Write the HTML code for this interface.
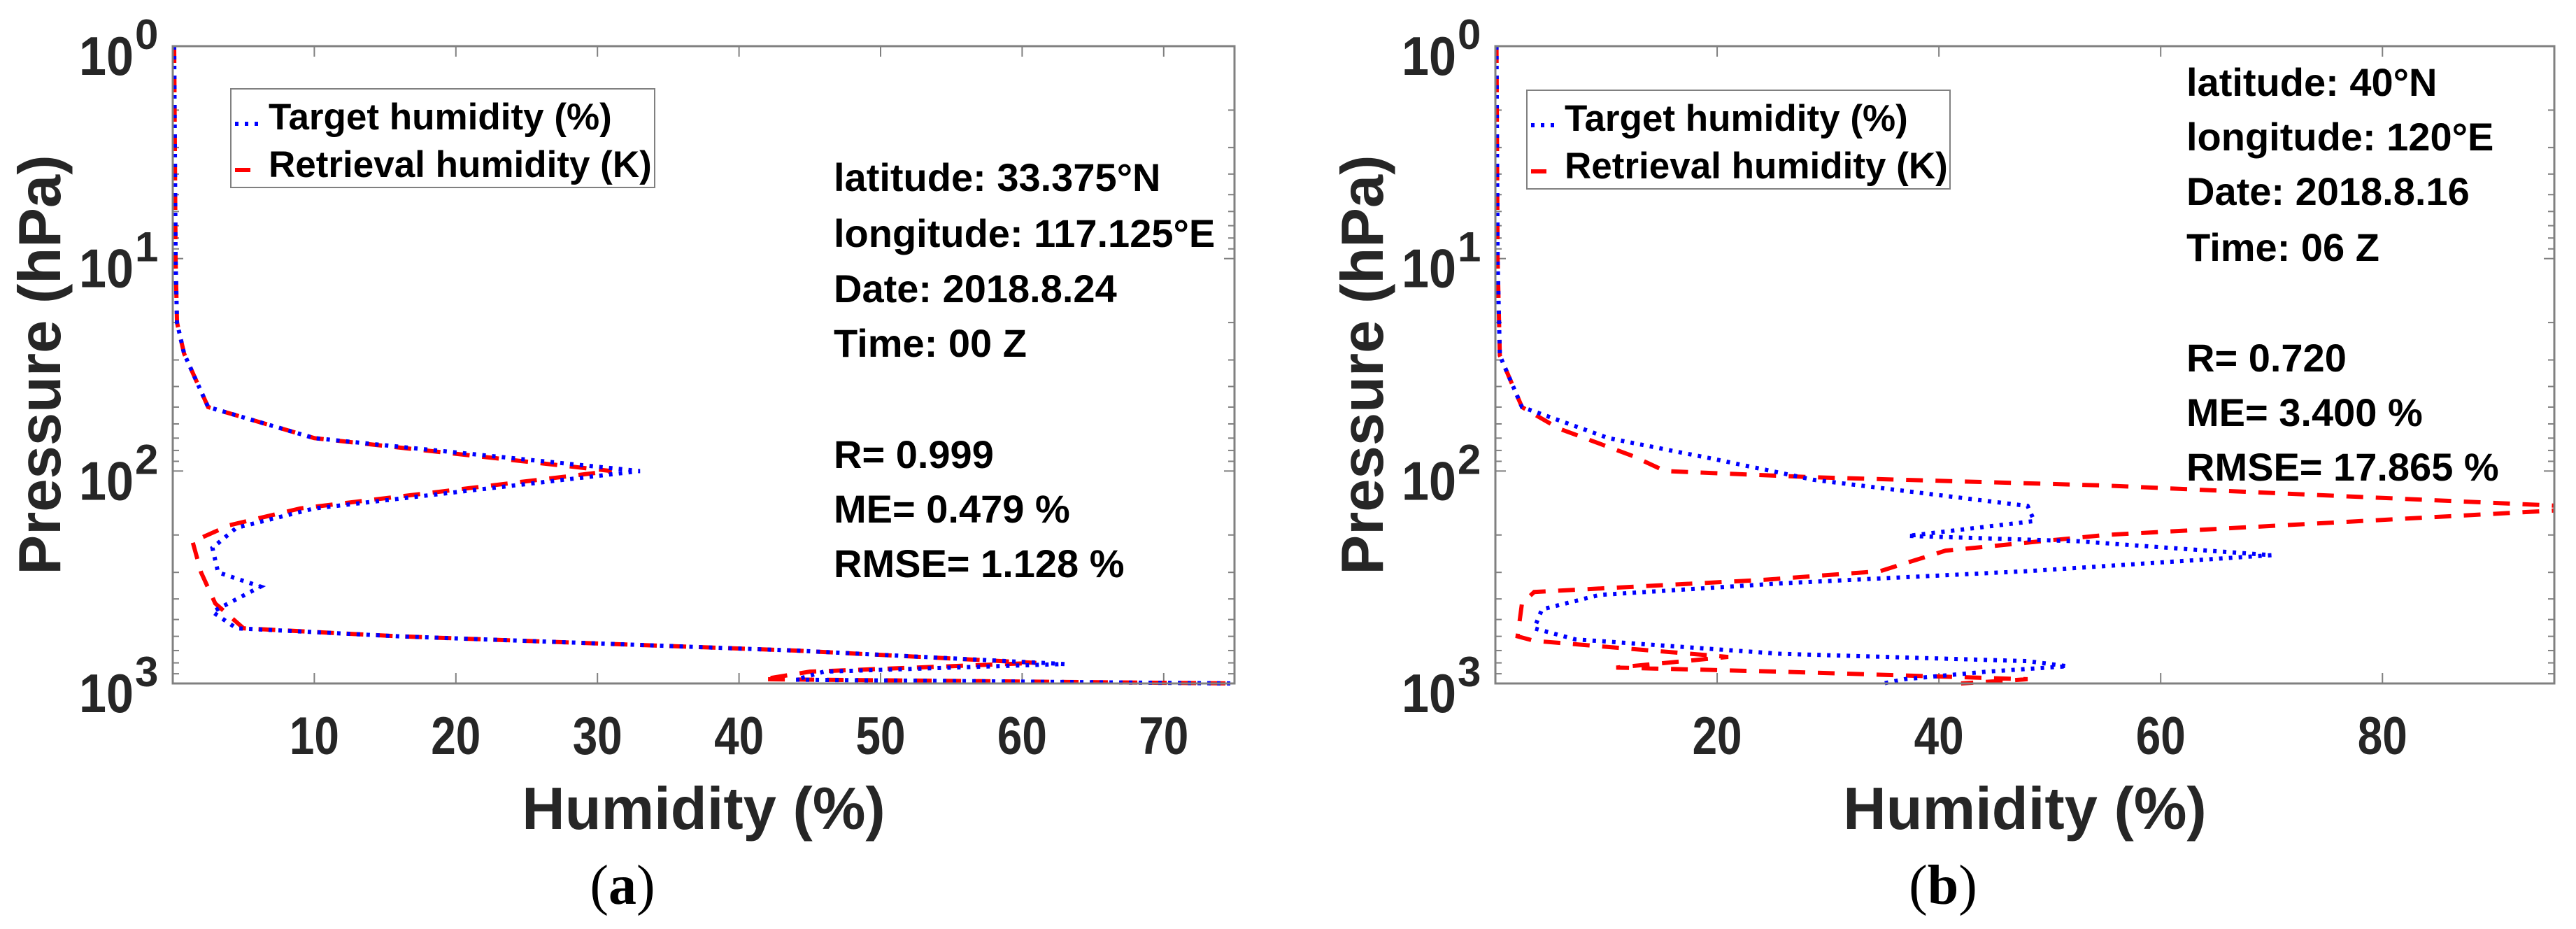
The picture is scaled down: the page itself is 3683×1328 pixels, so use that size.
<!DOCTYPE html>
<html><head><meta charset="utf-8"><style>
html,body{margin:0;padding:0;background:#fff;width:3683px;height:1328px;overflow:hidden}
svg{display:block}
text{font-family:"Liberation Sans",Arial,sans-serif}
</style></head><body>
<svg id="chart" width="3683" height="1328" viewBox="0 0 3683 1328" xmlns="http://www.w3.org/2000/svg"></svg>
<script>
// Panel (a) data
const aTargetP = [1,10,20,28,50,70,100,150,185,230,300,350,460,550,600,700,810,880,960,1000];
const aTargetX = [0.1,0.2,0.3,0.8,2.5,10,33,10,4.5,2.8,3.2,6.2,2.8,4.5,16,44,63,46,44,75];
const aRetrP = [1,10,20,28,50,70,100,150,180,215,300,420,550,600,700,800,880,955,1000];
const aRetrX = [0.1,0.2,0.3,0.8,2.5,10,31,9,4,1.4,2.0,3.0,5,16,44,61,45,41.7,75];
const aXTicks = [10,20,30,40,50,60,70];
const aInfo = ["latitude: 33.375°N","longitude: 117.125°E","Date: 2018.8.24","Time: 00 Z","R= 0.999","ME= 0.479 %","RMSE= 1.128 %"];
// Panel (b) data
const bTargetP = [1,10,28.6,50,70,88,110,146,172,202,214,249,296,338,383,448,550,620,725,785,830,880,955,1000];
const bTargetX = [0.1,0.2,0.4,2.4,10.2,19.8,28.7,48,48.6,37.2,52.5,70,48,25.7,9.4,4.2,3.5,7.2,25.7,48,51.6,44.3,36.9,35];
const bRetrP = [1,10,28.6,50,63,85,100,107,117,149,200,237,296,325,371,419,600,630,750,842,880,955,1000];
const bRetrX = [0.1,0.2,0.4,2.4,5.7,12.4,15.3,28.7,55,100,55,40.6,34.7,24.3,3.5,2.4,2,3.5,21,10.9,25.7,48,42];
const bXTicks = [20,40,60,80];
const bInfo = ["latitude: 40°N","longitude: 120°E","Date: 2018.8.16","Time: 06 Z","R= 0.720","ME= 3.400 %","RMSE= 17.865 %"];
const yDecades = [0,1,2,3];

const NS = "http://www.w3.org/2000/svg";
const svg = document.getElementById('chart');
function mk(tag, attrs, parent, txt){
  const e = document.createElementNS(NS, tag);
  for (const k in attrs) e.setAttribute(k, attrs[k]);
  if (txt !== undefined) e.textContent = txt;
  (parent||svg).appendChild(e);
  return e;
}

function drawPanel(cfg){
  const L=cfg.left, R=cfg.right, T=66, B=977;
  const xs = v => L + (v - 0) / cfg.xmax * (R - L);
  const ys = p => T + Math.log10(p) / 3 * (B - T);
  const g = mk('g', {});
  
  
  const clipId = cfg.id + '-clip';
  const defs = mk('defs', {}, g);
  const cp = mk('clipPath', {id: clipId}, defs);
  mk('rect', {x:L, y:T-4, width:R-L, height:B-T+8}, cp);

  const tk = mk('g', {stroke:'#808080','stroke-width':2}, g);
  
  
  cfg.xticks.forEach(v=>{
    const x = xs(v);
    mk('line',{x1:x,y1:B,x2:x,y2:B-15},tk);
    mk('line',{x1:x,y1:T,x2:x,y2:T+15},tk);
  });
  for (let d=0; d<3; d++){
    for (let m=2; m<=9; m++){
      const y = ys(m*Math.pow(10,d));
      mk('line',{x1:L,y1:y,x2:L+9,y2:y},tk);
      mk('line',{x1:R,y1:y,x2:R-9,y2:y},tk);
    }
  }
  yDecades.forEach(d=>{
    const y = ys(Math.pow(10,d));
    mk('line',{x1:L,y1:y,x2:L+15,y2:y},tk);
    mk('line',{x1:R,y1:y,x2:R-15,y2:y},tk);
  });

  const lines = mk('g', {'clip-path':'url(#'+clipId+')', fill:'none'}, g);
  const retr = mk('polyline', {points: cfg.rp.map((p,i)=>xs(cfg.rx[i])+','+ys(p)).join(' '),
    stroke:'#ff0000','stroke-width':6,'stroke-dasharray':'24 18'}, lines);
  
  
  const targ = mk('polyline', {points: cfg.tp.map((p,i)=>xs(cfg.tx[i])+','+ys(p)).join(' '),
    stroke:'#0000ff','stroke-width':6,'stroke-dasharray':'5 9'}, lines);
  
  

  const box = mk('rect', {x:L, y:T, width:R-L, height:B-T, fill:'none', stroke:'#808080', 'stroke-width':3}, g);
  
  

  cfg.xticks.forEach(v=>{
    const t = mk('text',{x:xs(v), y:1078, 'text-anchor':'middle','font-size':76,'font-weight':'bold',fill:'#262626',
      textLength:71, lengthAdjust:'spacingAndGlyphs'}, g, String(v));
    
    
  });
  yDecades.forEach(d=>{
    const y = ys(Math.pow(10,d));
    const t = mk('text',{x:L-56, y:y+41, 'text-anchor':'end','font-size':78,'font-weight':'bold',fill:'#262626',
      textLength:78, lengthAdjust:'spacingAndGlyphs'}, g, '10');
    
    
    const s = mk('text',{x:L-54, y:y+4, 'text-anchor':'start','font-size':60,'font-weight':'bold',fill:'#262626'}, g, String(d));
    
    
  });
  const xt = mk('text',{x:(L+R)/2, y:1185,'text-anchor':'middle','font-size':85,'font-weight':'bold',fill:'#262626'}, g, 'Humidity (%)');
  
  
  const yx = L - 161, yy = (T+B)/2;
  const yt = mk('text',{x:yx, y:yy,'text-anchor':'middle','font-size':85,'font-weight':'bold',fill:'#262626',
    transform:'rotate(-90 '+yx+' '+yy+')'}, g, 'Pressure (hPa)');
  
  

  const lg = mk('g', {}, g);
  
  
  mk('rect',{x:cfg.lg[0], y:cfg.lg[1], width:cfg.lg[2], height:141, fill:'#fff', stroke:'#808080','stroke-width':2}, lg);
  const lx = cfg.lg[0];
  mk('line',{x1:lx+6,y1:cfg.lg[1]+50,x2:lx+48,y2:cfg.lg[1]+50,stroke:'#0000ff','stroke-width':6,'stroke-dasharray':'5 9'}, lg);
  mk('line',{x1:lx+6,y1:cfg.lg[1]+116,x2:lx+28,y2:cfg.lg[1]+116,stroke:'#ff0000','stroke-width':6}, lg);
  const l1 = mk('text',{x:lx+54, y:cfg.lg[1]+58,'font-size':53,'font-weight':'bold',fill:'#000'}, lg, 'Target humidity (%)');
  
  
  const l2 = mk('text',{x:lx+54, y:cfg.lg[1]+126,'font-size':53,'font-weight':'bold',fill:'#000'}, lg, 'Retrieval humidity (K)');
  
  

  cfg.info.forEach((s,i)=>{
    const t = mk('text',{x:cfg.infoX, y:cfg.infoY[i],'font-size':56,'font-weight':'bold',fill:'#000'}, g, s);
    
    
  });
  const cap = mk('text',{x:cfg.capX, y:1292,'text-anchor':'middle','font-size':80,fill:'#000',
    style:'font-family:"Liberation Serif",serif'}, g);
  
  
  mk('tspan',{},cap,'(');
  mk('tspan',{'font-weight':'bold'},cap,cfg.cap);
  mk('tspan',{},cap,')');
}

drawPanel({id:'panel-a', left:247, right:1765, xmax:75, xticks:aXTicks,
  tp:aTargetP, tx:aTargetX, rp:aRetrP, rx:aRetrX,
  lg:[330,127,606], info:aInfo, infoX:1192, infoY:[273,353,432,510,669,747,825], capX:890, cap:'a'});
drawPanel({id:'panel-b', left:2138, right:3652, xmax:95.5, xticks:bXTicks,
  tp:bTargetP, tx:bTargetX, rp:bRetrP, rx:bRetrX,
  lg:[2183,129,605], info:bInfo, infoX:3126, infoY:[137,215,293,373,531,609,687], capX:2778, cap:'b'});
</script>
</body></html>
